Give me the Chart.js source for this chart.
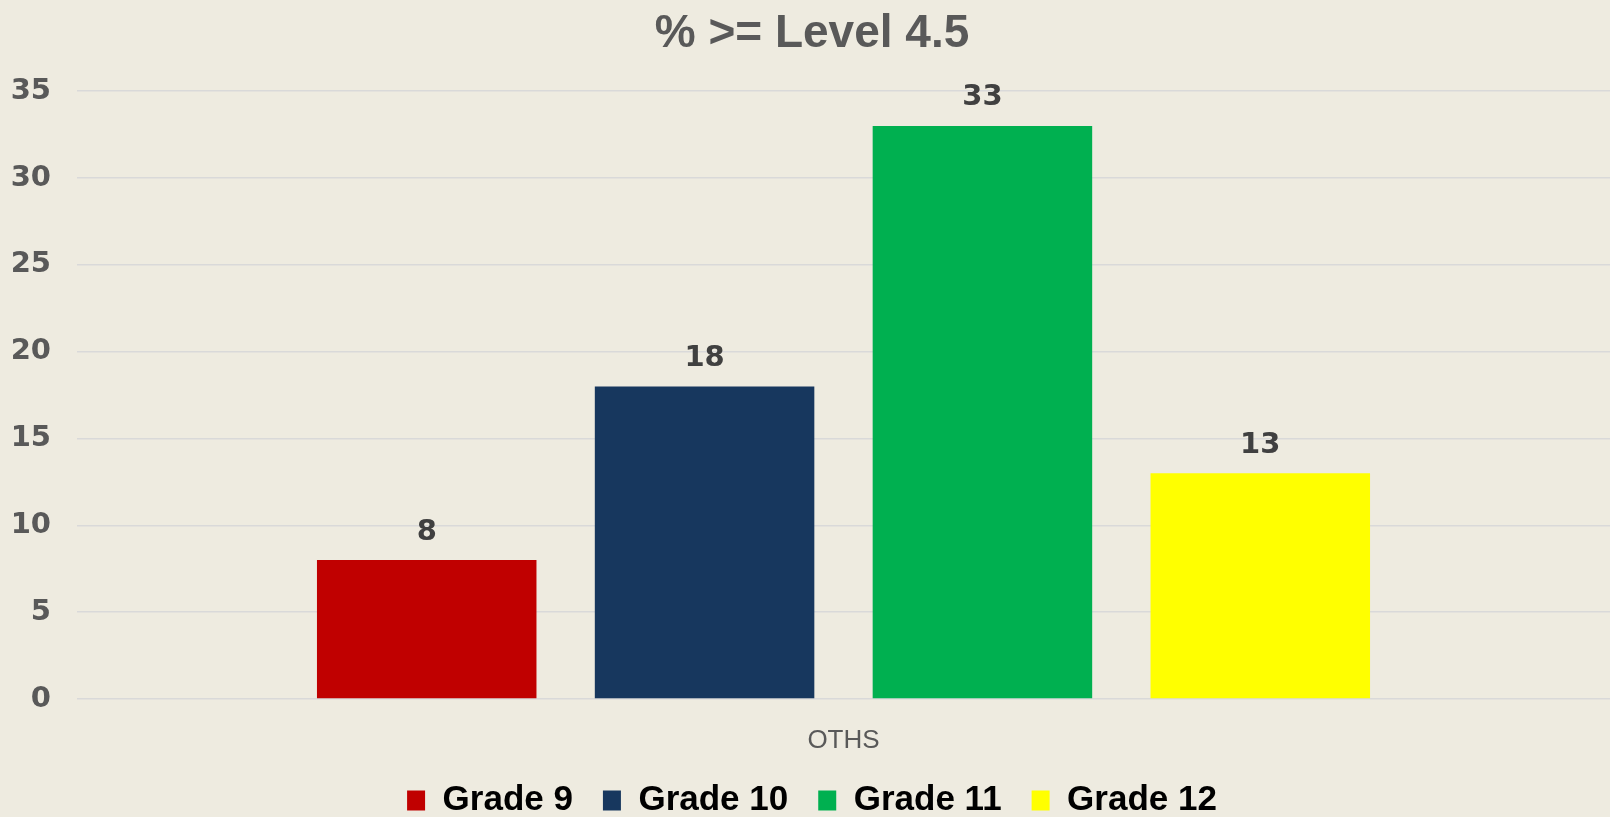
<!DOCTYPE html>
<html>
<head>
<meta charset="utf-8">
<script src="https://cdn.jsdelivr.net/npm/chart.js@4"></script>
<style>
  html, body { margin: 0; padding: 0; background: #EEEBE0; }
  #wrap { width: 1610px; height: 817px; }
</style>
</head>
<body>
<div id="wrap"><canvas id="gradeChart" width="1610" height="817"></canvas></div>
<script>
// données
const categories = ['OTHS'];
const seriesNames = ['Grade 9', 'Grade 10', 'Grade 11', 'Grade 12'];
const seriesValues = [[8], [18], [33], [13]];
const seriesColors = ['#C00000', '#17375E', '#00B050', '#FFFF00'];
const yTicks = [0, 5, 10, 15, 20, 25, 30, 35];

// étiquettes de valeur au-dessus des barres
const valueLabels = {
    id: 'valueLabels',
    afterDatasetsDraw(chart) {
        const c = chart.ctx;
        c.save();
        c.font = 'bold 29px "DejaVu Sans", sans-serif';
        c.fillStyle = '#404040';
        c.textAlign = 'center';
        c.textBaseline = 'middle';
        chart.data.datasets.forEach((ds, i) => {
            chart.getDatasetMeta(i).data.forEach((bar, j) => {
                c.fillText(ds.data[j], bar.x, bar.y - 28);
            });
        });
        c.restore();
    }
};

const ctx = document.getElementById('gradeChart').getContext('2d');
const chart = new Chart(ctx, {
    type: 'bar',
    data: {
        labels: categories,
        datasets: seriesNames.map((name, i) => ({
            label: name,
            data: seriesValues[i],
            backgroundColor: seriesColors[i],
            categoryPercentage: 0.725,
            barPercentage: 0.79
        }))
    },
    options: {
        responsive: false,
        animation: false,
        layout: { padding: { left: 10, right: -4, top: 0, bottom: -11 } },
        plugins: {
            title: {
                display: true,
                text: '% >= Level 4.5',
                color: '#595959',
                font: { family: '"Liberation Sans", Arial, sans-serif', size: 46, weight: 'bold' },
                padding: { top: 7, bottom: 29 }
            },
            legend: {
                position: 'bottom',
                labels: {
                    color: '#000000',
                    boxWidth: 18,
                    boxHeight: 20,
                    padding: 30,
                    font: { family: '"Liberation Sans", Arial, sans-serif', size: 35, weight: 'bold' }
                }
            },
            tooltip: { enabled: false }
        },
        scales: {
            x: {
                grid: { display: false, drawTicks: false },
                border: { display: false },
                afterFit(axis) { axis.height = 54; },
                ticks: {
                    color: '#595959',
                    padding: 26,
                    font: { family: '"Liberation Sans", Arial, sans-serif', size: 26 }
                }
            },
            y: {
                min: yTicks[0],
                max: yTicks[yTicks.length - 1],
                grid: { color: '#D9D9D9', lineWidth: 1.5, drawTicks: false },
                border: { display: false },
                afterFit(axis) { axis.width = 67; },
                afterBuildTicks(axis) {
                    axis.ticks = yTicks.map(v => ({ value: v }));
                },
                ticks: {
                    color: '#595959',
                    padding: 26,
                    font: { family: '"DejaVu Sans", sans-serif', size: 29, weight: 'bold' }
                }
            }
        }
    },
    plugins: [valueLabels]
});
</script>
</body>
</html>
